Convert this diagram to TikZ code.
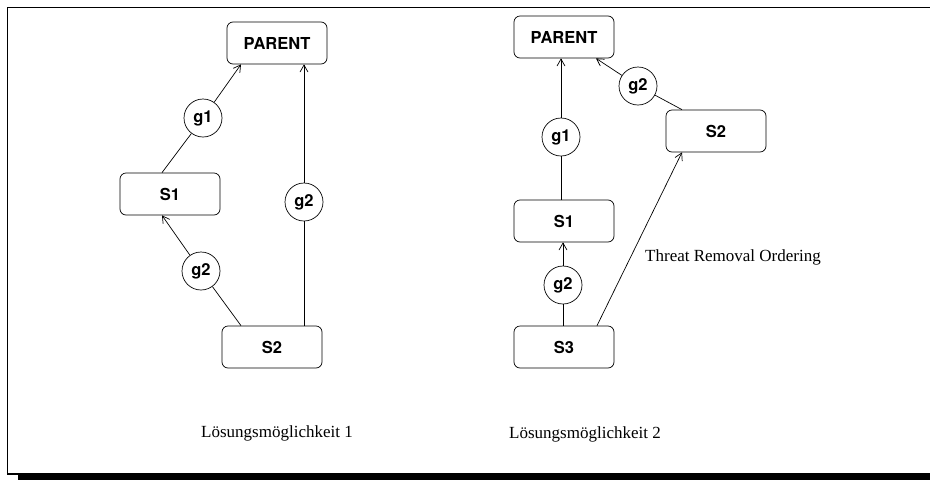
\documentclass[tikz,border=0pt]{standalone}
\usepackage{fontspec}
\setmainfont{Liberation Serif}
\setsansfont{TeX Gyre Heros}
\usetikzlibrary{positioning,arrows.meta}

\begin{document}
\begin{tikzpicture}
  [
    x=1pt, y=-1pt,
    line width=0.7pt,
    plan/.style={draw, rounded corners=6pt, minimum width=100pt, minimum height=42pt, inner sep=2pt, font=\sffamily\bfseries\fontsize{16.5}{19}\selectfont},
    goal/.style={draw, circle, minimum size=38pt, inner sep=0pt, font=\sffamily\bfseries\fontsize{16.5}{19}\selectfont},
    caption/.style={font=\fontsize{17}{20}\selectfont},
    >={Straight Barb[length=7pt,width=8pt]}
  ]
  \useasboundingbox (0,0) rectangle (930,480);

  % frame with shadow
  \draw [line width=1.6pt] (930,7.5) -- (7.5,7.5) -- (7.5,474) -- (18,474);
  \fill (18,473) rectangle (930,480);

  % first solution
  \node (p1) [plan] at (277,43) {PARENT};
  \node (s1a) [plan] at (170,194) {S1};
  \node (s2a) [plan] at (272,347) {S2};
  \node (g1a) [goal] at (203,118) {g1};
  \node (g2a) [goal] at (201,271) {g2};
  \node (g2b) [goal] at (304,202) {g2};
  \node (cap1) [caption] at (277,433) {Lösungsmöglichkeit 1};

  \draw ([xshift=-31pt]s2a.north) -- (g2a);
  \draw [->] (g2a) -- ([xshift=-8pt]s1a.south);
  \draw ([xshift=-8pt]s1a.north) -- (g1a);
  \draw [->] (g1a) -- ([xshift=-36pt]p1.south);
  \draw ([xshift=32pt]s2a.north) -- (g2b);
  \draw [->] (g2b) -- ([xshift=27pt]p1.south);

  % second solution
  \node (p2) [plan] at (564,37) {PARENT};
  \node (s2b) [plan] at (716,131) {S2};
  \node (s1b) [plan] at (564,221) {S1};
  \node (s3b) [plan] at (564,347) {S3};
  \node (g1b) [goal] at (561,137) {g1};
  \node (g2c) [goal] at (638,86) {g2};
  \node (g2d) [goal] at (563,285) {g2};
  \node (tro) [caption] at (733,257) {Threat Removal Ordering};
  \node (cap2) [caption] at (585,434) {Lösungsmöglichkeit 2};

  \draw ([xshift=-3pt]s1b.north) -- (g1b);
  \draw [->] (g1b) -- ([xshift=-3pt]p2.south);
  \draw ([xshift=-1pt]s3b.north) -- (g2d);
  \draw [->] (g2d) -- ([xshift=-1pt]s1b.south);
  \draw ([xshift=-34pt]s2b.north) -- (g2c);
  \draw [->] (g2c) -- ([xshift=32pt]p2.south);
  \draw [->] ([xshift=33pt]s3b.north) -- ([xshift=-34pt]s2b.south);
\end{tikzpicture}
\end{document}
